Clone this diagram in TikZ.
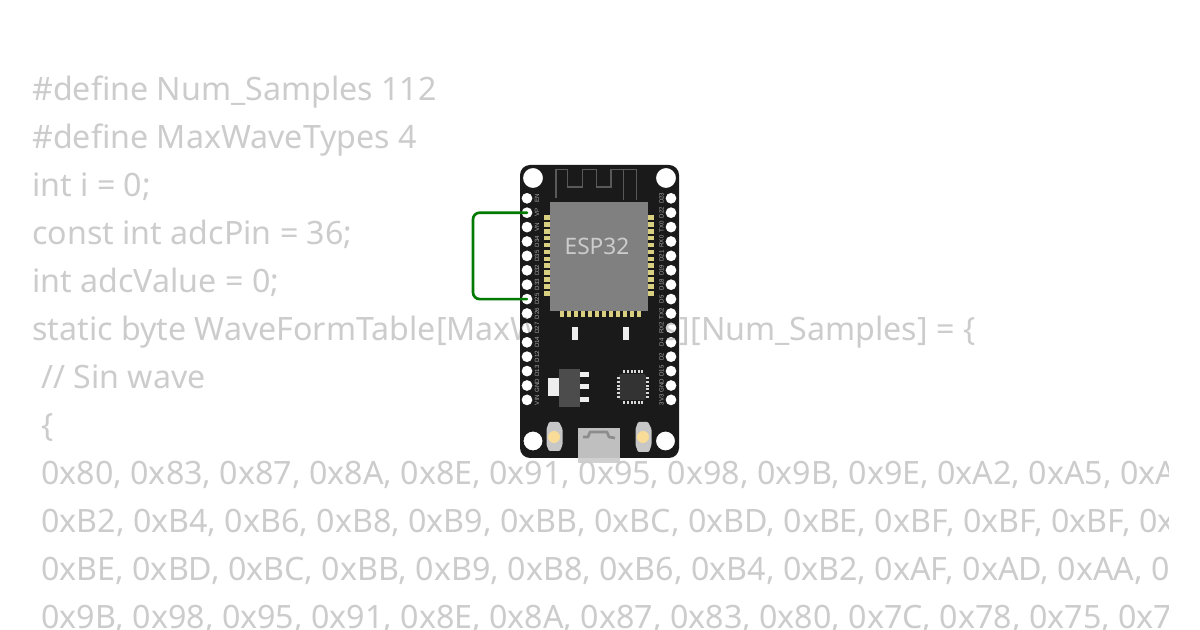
\documentclass[tikz,border=0pt]{standalone}
\usepackage{fontspec}
\setmainfont{Noto Sans}
\newfontfamily\pinfont{Liberation Sans}
\begin{document}
\begin{tikzpicture}[
	x=0.75pt, y=-0.75pt,
	codeline/.style={anchor=base west, inner sep=0pt, text=black!20, font=\fontsize{24.15}{24}\selectfont},
	pinlabel/.style={rotate=90, inner sep=0pt, text=black!35, font=\pinfont\fontsize{4.6}{5}\selectfont},
	chippad/.style={fill=padyellow},
	smdpart/.style={fill=partwhite},
	icpin/.style={fill=black!15},
	button/.style={fill=black!22, rounded corners=0.8pt},
	wire/.style={draw=wiregreen, line width=2pt, rounded corners=5pt, line cap=round},
	]
	\definecolor{boardblack}{HTML}{1A1A1A}
	\definecolor{padyellow}{HTML}{D8CF80}
	\definecolor{partwhite}{HTML}{EEEEEE}
	\definecolor{wiregreen}{HTML}{007A00}
	\definecolor{ledyellow}{HTML}{F9DC98}
	\useasboundingbox (0,0) rectangle (1200,630);

	%Code
	\begin{scope}
		\clip (0,0) rectangle (1168,630);
		\node[codeline] (code1)  at (32,100.6) {\#define Num\_Samples 112};
		\node[codeline] (code2)  at (32,148.6) {\#define MaxWaveTypes 4};
		\node[codeline] (code3)  at (32,196.6) {int i = 0;};
		\node[codeline] (code4)  at (32,244.6) {const int adcPin = 36;};
		\node[codeline] (code5)  at (32,292.6) {int adcValue = 0;};
		\node[codeline] (code6)  at (32,340.6) {static byte WaveFormTable[MaxWaveTypes][Num\_Samples] = \{};
		\node[codeline] (code7)  at (41,388.6) {// Sin wave};
		\node[codeline] (code8)  at (41,436.6) {\{};
		\node[codeline] (code9)  at (41,484.6) {0x80, 0x83, 0x87, 0x8A, 0x8E, 0x91, 0x95, 0x98, 0x9B, 0x9E, 0xA2, 0xA5, 0xA7,};
		\node[codeline] (code10) at (41,532.6) {0xB2, 0xB4, 0xB6, 0xB8, 0xB9, 0xBB, 0xBC, 0xBD, 0xBE, 0xBF, 0xBF, 0xBF, 0xBF,};
		\node[codeline] (code11) at (41,580.6) {0xBE, 0xBD, 0xBC, 0xBB, 0xB9, 0xB8, 0xB6, 0xB4, 0xB2, 0xAF, 0xAD, 0xAA, 0xA7,};
		\node[codeline] (code12) at (41,628.6) {0x9B, 0x98, 0x95, 0x91, 0x8E, 0x8A, 0x87, 0x83, 0x80, 0x7C, 0x78, 0x75, 0x71,};
	\end{scope}

	%Board
	\fill[boardblack, even odd rule, rounded corners=7.5pt] (520,165) rectangle (679,458)
		[sharp corners] (533,178) circle (10) (666,178) circle (10)
		(533,441) circle (9.5) (665.5,441) circle (9.5)
		foreach \i in {0,...,14} {(527,198.3+14.4*\i) circle (5.5) (671,198.3+14.4*\i) circle (5.5)};

	%Antenna
	\draw[black!65, line width=0.9pt] (556,198) |- (567.7,169.3) |- (582.7,187) |- (596.7,169.3) |- (611,187) |- (636.7,169.3) -- (636.7,200);
	\draw[black!65, line width=0.9pt] (623.3,169.3) -- (623.3,200);

	%Chip
	\fill[black!50] (550,202) rectangle (648,311.5);
	\foreach \i in {0,...,11} {
		\fill[chippad] (544,215.2+6.9*\i) rectangle (550,219.8+6.9*\i);
		\fill[chippad] (648,215.2+6.9*\i) rectangle (654,219.8+6.9*\i);
		\fill[chippad] (559.7+7*\i,311.5) rectangle (564+7*\i,317.5);
	}
	\node[inner sep=0pt, text=black!20, font=\fontsize{17}{17}\selectfont] (esp) at (597,246) {ESP32};
	\fill[smdpart] (572,327) rectangle (577.7,340);
	\fill[smdpart] (623,327) rectangle (629,340);

	%Regulator
	\fill[black!70] (559,369) rectangle (580,407);
	\fill[smdpart] (548,378) rectangle (559,396);
	\fill[smdpart] (580,372) rectangle (589,377);
	\fill[smdpart] (580,384) rectangle (589,389);
	\fill[smdpart] (580,397) rectangle (589,402);

	%Small chip
	\fill[black!80, rounded corners=1.5pt] (619,374) rectangle (646,400);
	\foreach \i in {0,...,5} {
		\fill[icpin] (623.4+3.6*\i,370.5) rectangle (625.4+3.6*\i,373.5);
		\fill[icpin] (623.4+3.6*\i,401) rectangle (625.4+3.6*\i,404);
		\fill[icpin] (616.5,377+3.8*\i) rectangle (619.5,379+3.8*\i);
		\fill[icpin] (645.5,377+3.8*\i) rectangle (648.5,379+3.8*\i);
	}

	%Buttons
	\fill[button] (549,422) -- (559,422) -- (562.5,429) -- (562.5,445) -- (560,451) -- (549,451) -- (546.5,445) -- (546.5,429) -- cycle;
	\fill[button] (638,422) -- (648,422) -- (651.5,429) -- (651.5,445) -- (649,452) -- (638,452) -- (635.5,445) -- (635.5,429) -- cycle;
	\fill[ledyellow] (554,437) circle (6);
	\fill[ledyellow] (643,437) circle (6);

	%Usb
	\fill[black!20, opacity=0.93] (578,428) rectangle (620,463);
	\draw[black!45, line width=2pt, line join=round] (583,437) -- (588,437) -- (590,432) -- (607,432) -- (609,437) -- (615,438);

	%Pins
	\foreach \name [count=\i from 0] in {EN,VP,VN,D34,D35,D32,D33,D25,D26,D27,D14,D12,D13,GND,VIN} {
		\coordinate (L\name) at (527,198.3+14.4*\i);
		\node[pinlabel] (lab\name) at (537,198.3+14.4*\i) {\name};
	}
	\foreach \name [count=\i from 0] in {D23,D22,TX0,RX0,D21,D19,D18,D5,TX2,RX2,D4,D2,D15,GND,3V3} {
		\coordinate (R\name) at (671,198.3+14.4*\i);
		\node[pinlabel] (rab\name) at (661.5,198.3+14.4*\i) {\name};
	}

	%Lines
	\coordinate (bendtop) at (473,0);
	\draw[wire] (LVP) -- (LVP -| bendtop) -- (LD25 -| bendtop) -- (LD25);
\end{tikzpicture}
\end{document}
